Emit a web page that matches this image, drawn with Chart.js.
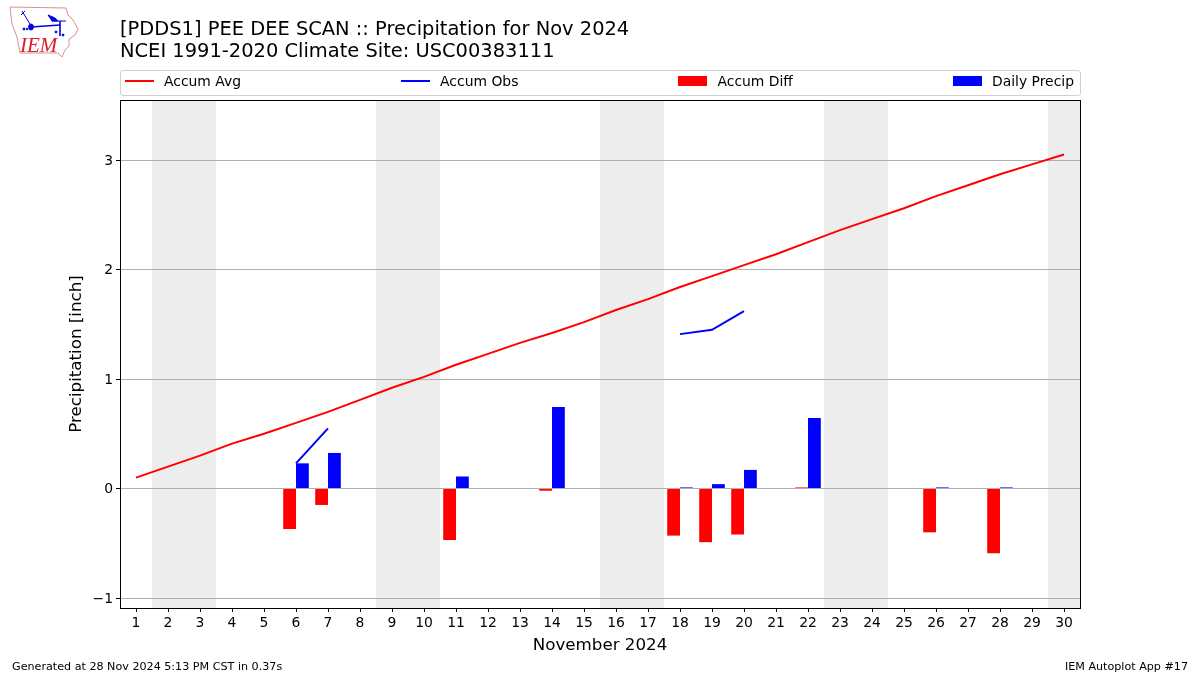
<!DOCTYPE html>
<html lang="en">
<head>
    <meta charset="UTF-8">
    <title>PDDS1 Precipitation Nov 2024</title>
    <script src="https://cdn.jsdelivr.net/npm/chart.js"></script>
    <style>
        body { margin: 0; background: #fff; font-family: "DejaVu Sans", sans-serif; color: #000; }
        #wrap { position: relative; width: 1200px; height: 675px; overflow: hidden; }
        canvas { position: absolute; left: 0; top: 0; }
        .title { position: absolute; left: 120px; top: 18px; font-size: 19.45px; line-height: 22px; white-space: nowrap; }
        .foot { position: absolute; top: 660px; font-size: 11.15px; line-height: 13px; white-space: nowrap; }
        #legend { position: absolute; left: 120px; top: 70px; width: 961px; height: 26px; box-sizing: border-box;
                  border: 1px solid #d0d0d0; border-radius: 3px; padding: 0 6px 5px 4px; display: flex;
                  justify-content: space-between; align-items: center; font-size: 13.9px; }
        #legend div { display: flex; align-items: center; white-space: nowrap; }
        #legend i { display: block; width: 29px; margin-right: 10px; }
        #logo { position: absolute; left: 8px; top: 6px; }
    </style>
</head>
<body>
<div id="wrap">
    <canvas id="myChart" width="1200" height="675"></canvas>
    <svg id="logo" width="72" height="54" viewBox="8 6 72 54">
        <path d="M10 7 L66 8 L68 15 L73 20 L78 29 L75 35 L69 39 L69 46 L65 50 L62 57 L58 53 L20 53 L17 37 L12 24 Z"
              fill="none" stroke="#e08a8a" stroke-width="1"/>
        <g stroke="#0000e0" fill="#0000e0">
            <line x1="31" y1="27" x2="60" y2="25" stroke-width="1.6"/>
            <line x1="52" y1="21" x2="66" y2="21" stroke-width="1"/>
            <line x1="60" y1="21" x2="60" y2="36" stroke-width="1.6"/>
            <path d="M22 11 L30 24" stroke-width="1" fill="none"/>
            <path d="M21 15 L25 11" stroke-width="1" fill="none"/>
            <ellipse cx="31" cy="27" rx="2.4" ry="3"/>
            <path d="M48 15 L55 18 L58 21 L52 21 Z"/>
            <circle cx="24" cy="29" r="1"/>
            <circle cx="27" cy="29" r="0.8"/>
            <circle cx="56" cy="32" r="1"/>
            <circle cx="63" cy="35" r="1"/>
        </g>
        <text x="20" y="52" font-family="Liberation Serif" font-style="italic" font-size="21" fill="#d8202a">IEM</text>
    </svg>
    <div class="title">[PDDS1] PEE DEE SCAN :: Precipitation for Nov 2024<br>NCEI 1991-2020 Climate Site: USC00383111</div>
    <div id="legend"></div>
    <div class="foot" style="left:12px">Generated at 28 Nov 2024 5:13 PM CST in 0.37s</div>
    <div class="foot" style="right:12px">IEM Autoplot App #17</div>
</div>

<script>
    const days = ['1','2','3','4','5','6','7','8','9','10','11','12','13','14','15','16','17','18','19','20','21','22','23','24','25','26','27','28','29','30'];
    const accumAvg = [0.10,0.20,0.30,0.41,0.50,0.60,0.70,0.81,0.92,1.02,1.13,1.23,1.33,1.42,1.52,1.63,1.73,1.84,1.94,2.04,2.14,2.25,2.36,2.46,2.56,2.67,2.77,2.87,2.96,3.05];
    const accumObs = [null,null,null,null,null,0.23,0.55,null,null,null,null,null,null,null,null,null,null,1.41,1.45,1.62,null,null,null,null,null,null,null,null,null,null];
    const accumDiff = [null,null,null,null,null,-0.37,-0.15,null,null,null,-0.47,null,null,-0.02,null,null,null,-0.43,-0.49,-0.42,null,0.01,null,null,null,-0.40,null,-0.59,null,null];
    const dailyPrecip = [null,null,null,null,null,0.23,0.325,null,null,null,0.11,null,null,0.745,null,null,null,0.01,0.04,0.17,null,0.645,null,null,null,0.01,null,0.01,null,null];
    const weekends = [['2','3'],['9','10'],['16','17'],['23','24'],['30','30']];
    const yTicks = [-1,0,1,2,3];

    // grey weekend bands behind the grid, black frame on top
    const plotDecor = {
        id: 'plotDecor',
        beforeDraw: (chart) => {
            const {ctx, chartArea, scales} = chart;
            const step = scales.x.getPixelForValue(1) - scales.x.getPixelForValue(0);
            ctx.save();
            ctx.fillStyle = '#ededed';
            weekends.forEach(w => {
                const a = Math.floor(scales.x.getPixelForValue(days.indexOf(w[0])) - step / 2);
                const b = Math.floor(scales.x.getPixelForValue(days.indexOf(w[1])) + step / 2);
                ctx.fillRect(a, chartArea.top, b - a, chartArea.bottom - chartArea.top);
            });
            ctx.restore();
        },
        afterDraw: (chart) => {
            const {ctx, chartArea} = chart;
            ctx.save();
            ctx.strokeStyle = '#000';
            ctx.lineWidth = 1;
            ctx.strokeRect(chartArea.left + 0.5, chartArea.top + 0.5, chartArea.right - chartArea.left, chartArea.bottom - chartArea.top);
            ctx.restore();
        }
    };

    const legendItems = [
        {label: 'Accum Avg', color: 'red', h: 2},
        {label: 'Accum Obs', color: 'blue', h: 2},
        {label: 'Accum Diff', color: 'red', h: 10},
        {label: 'Daily Precip', color: 'blue', h: 10}
    ];
    document.getElementById('legend').innerHTML = legendItems.map(it =>
        `<div><i style="height:${it.h}px;background:${it.color}"></i>${it.label}</div>`).join('');

    new Chart(document.getElementById('myChart'), {
        data: {
            labels: days,
            datasets: [
                {type: 'line', label: 'Accum Avg', data: accumAvg, borderColor: 'red', borderWidth: 2, pointRadius: 0, tension: 0, order: 1},
                {type: 'line', label: 'Accum Obs', data: accumObs, borderColor: 'blue', borderWidth: 2, pointRadius: 0, tension: 0, spanGaps: false, order: 2},
                {type: 'bar', label: 'Accum Diff', data: accumDiff, backgroundColor: 'red', categoryPercentage: 0.8, barPercentage: 1, order: 3},
                {type: 'bar', label: 'Daily Precip', data: dailyPrecip, backgroundColor: 'blue', categoryPercentage: 0.8, barPercentage: 1, order: 4}
            ]
        },
        options: {
            responsive: false,
            animation: false,
            layout: {padding: {left: 67, right: 120, top: 100, bottom: 19}},
            plugins: {legend: {display: false}, title: {display: false}, tooltip: {enabled: false}},
            scales: {
                x: {
                    offset: true,
                    afterFit: (s) => { s.height = 48; },
                    grid: {drawOnChartArea: false, drawTicks: true, tickColor: '#000', tickLength: 4, offset: false},
                    border: {display: false},
                    ticks: {color: '#000', font: {family: 'DejaVu Sans', size: 13.9}, maxRotation: 0, autoSkip: false, padding: 3},
                    title: {display: true, text: 'November 2024', color: '#000', font: {family: 'DejaVu Sans', size: 16.7}, padding: {top: 3, bottom: 0}}
                },
                y: {
                    min: -1.091,
                    max: 3.548,
                    afterFit: (s) => { s.width = 53; },
                    afterBuildTicks: (s) => { s.ticks = yTicks.map(v => ({value: v})); },
                    grid: {color: '#b0b0b0', lineWidth: 1, tickColor: '#000', tickLength: 4},
                    border: {display: false},
                    ticks: {
                        color: '#000',
                        font: {family: 'DejaVu Sans', size: 13.9},
                        padding: 3,
                        labelOffset: 1,
                        callback: (v) => String(v).replace('-', '\u2212')
                    },
                    title: {display: true, text: 'Precipitation [inch]', color: '#000', font: {family: 'DejaVu Sans', size: 16.7}, padding: {top: 0, bottom: 6}}
                }
            }
        },
        plugins: [plotDecor]
    });
</script>
</body>
</html>
